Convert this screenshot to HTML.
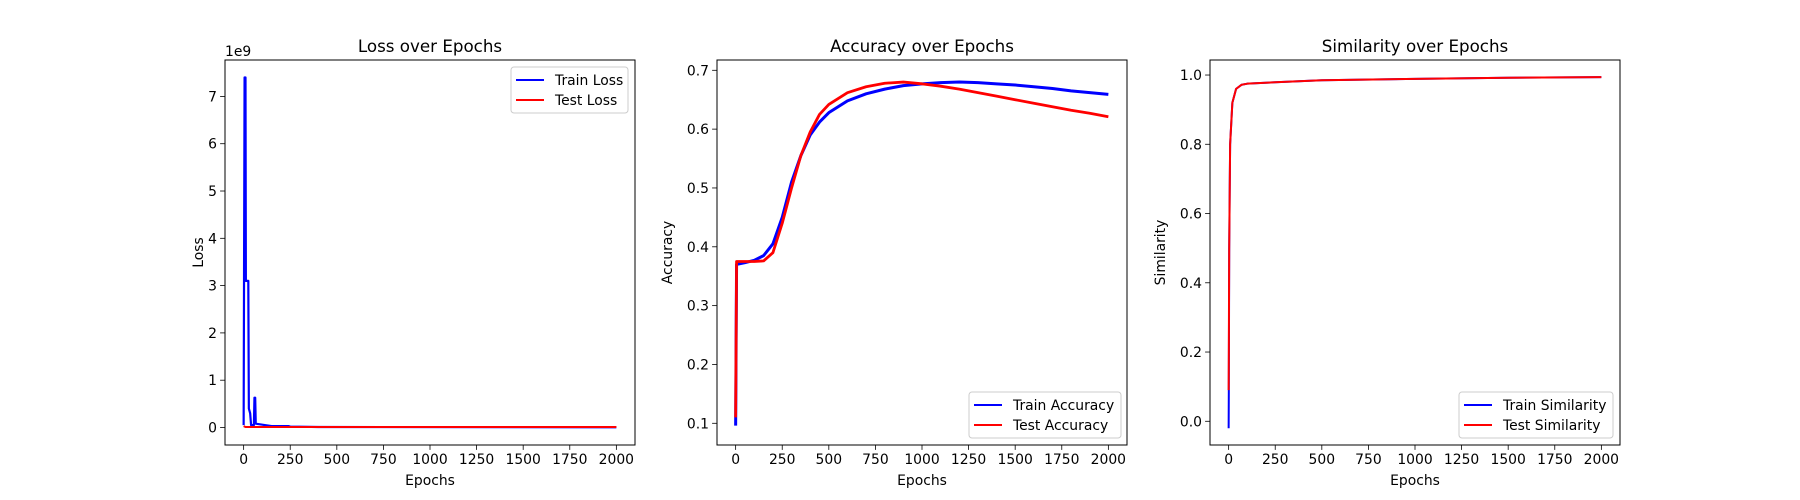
<!DOCTYPE html>
<html><head><meta charset="utf-8"><style>
body{margin:0;background:#fff;}
svg{display:block;font-family:"DejaVu Sans","Liberation Sans",sans-serif;}
</style></head><body>
<svg id="fig" width="1800" height="500" viewBox="0 0 1800 500"></svg>
<script>
const epochs = [0,5,50,100,150,200,250,300,350,400,450,500,600,700,800,900,1000,1100,1200,1300,1400,1500,1600,1700,1800,1900,2000];
const trainAcc = [0.096,0.37,0.373,0.377,0.385,0.405,0.45,0.51,0.555,0.59,0.612,0.628,0.648,0.66,0.668,0.674,0.677,0.679,0.680,0.679,0.677,0.675,0.672,0.669,0.665,0.662,0.659];
const testAcc = [0.11,0.375,0.375,0.375,0.376,0.39,0.44,0.50,0.555,0.595,0.625,0.642,0.662,0.672,0.678,0.68,0.677,0.673,0.668,0.662,0.656,0.650,0.644,0.638,0.632,0.627,0.621];
const lossEpochs = [0,5,10,12,25,28,35,40,55,58,62,65,100,150,240,250,400,2000];
const trainLoss = [0.05,7.4,7.4,3.1,3.1,0.4,0.3,0.05,0.05,0.63,0.63,0.08,0.06,0.03,0.03,0.02,0.01,0.005];
const testLossEpochs = [0,10,2000];
const testLoss = [0.03,0.01,0.01];
const simEpochs = [0,1,3,8,20,40,70,100,250,500,1000,1500,2000];
const trainSim = [-0.02,0.09,0.5,0.8,0.92,0.96,0.972,0.975,0.979,0.985,0.989,0.992,0.994];
const testSim = [0.09,0.2,0.5,0.8,0.92,0.96,0.972,0.975,0.979,0.985,0.989,0.992,0.994];
const xTicks = [0,250,500,750,1000,1250,1500,1750,2000];
const lossTicks = [0,1,2,3,4,5,6,7];
const accTicks = [0.1,0.2,0.3,0.4,0.5,0.6,0.7];
const simTicks = [0.0,0.2,0.4,0.6,0.8,1.0];

const NS="http://www.w3.org/2000/svg";
const fig=document.getElementById('fig');
function mk(tag,attrs,parent){const e=document.createElementNS(NS,tag);for(const k in attrs)e.setAttribute(k,attrs[k]);(parent||fig).appendChild(e);return e;}

function panel(cfg){
  const L=cfg.left,T=60,W=410,H=385,B=T+H;
  const g=mk('g',{});
  
  
  const sx=v=>L+(v+100)/2200*W;
  const sy=v=>B-(v-cfg.ymin)/(cfg.ymax-cfg.ymin)*H;
  cfg.series.forEach(s=>{
    const d=s.x.map((xv,i)=>(i?'L':'M')+sx(xv).toFixed(2)+' '+sy(s.y[i]).toFixed(2)).join(' ');
    const p=mk('path',{d:d,fill:'none',stroke:s.color,'stroke-width':s.w||1.5,'stroke-linejoin':'round'},g);
    
    
  });
  const fr=mk('rect',{x:L,y:T,width:W,height:H,fill:'none',stroke:'#000','stroke-width':1},g);
  
  
  xTicks.forEach(t=>{
    const x=sx(t);
    mk('line',{x1:x,x2:x,y1:B,y2:B+4.9,stroke:'#000','stroke-width':0.8},g);
    const tx=mk('text',{x:x,y:B+19,'font-size':13.9,'text-anchor':'middle',fill:'#000'},g);
    tx.textContent=t;
    
    
  });
  cfg.yticks.forEach(t=>{
    const y=sy(t);
    mk('line',{x1:L-4.9,x2:L,y1:y,y2:y,stroke:'#000','stroke-width':0.8},g);
    const tx=mk('text',{x:L-8,y:y+5,'font-size':13.9,'text-anchor':'end',fill:'#000'},g);
    tx.textContent=cfg.fmt(t);
    
    
  });
  const xl=mk('text',{x:L+W/2,y:485,'font-size':13.9,'text-anchor':'middle'},g);
  xl.textContent='Epochs';
  
  
  const yl=mk('text',{x:0,y:0,'font-size':13.9,'text-anchor':'middle',transform:`translate(${L-cfg.ylabOff},${T+H/2}) rotate(-90)`},g);
  yl.textContent=cfg.ylabel;
  
  
  const ti=mk('text',{x:L+W/2,y:52,'font-size':16.7,'text-anchor':'middle'},g);
  ti.textContent=cfg.title;
  
  
  if(cfg.offset){
    const o=mk('text',{x:L,y:56,'font-size':13.9},g);
    o.textContent=cfg.offset;
    
    
  }
  const lg=cfg.legend;
  const lgG=mk('g',{},g);
  
  
  mk('rect',{x:lg.x,y:lg.y,width:lg.w,height:46,rx:3,fill:'#fff','fill-opacity':0.8,stroke:'#ccc','stroke-width':1},lgG);
  cfg.series.forEach((s,i)=>{
    const yy=lg.y+13+i*20;
    mk('line',{x1:lg.x+5,x2:lg.x+33,y1:yy,y2:yy,stroke:s.color,'stroke-width':2},lgG);
    const t=mk('text',{x:lg.x+44,y:yy+5,'font-size':13.9},lgG);
    t.textContent=s.label;
    
    
  });
}

panel({name:'loss-chart',left:225,ymin:-0.37,ymax:7.77,yticks:lossTicks,fmt:t=>String(t),ylabel:'Loss',ylabOff:22,title:'Loss over Epochs',offset:'1e9',
  legend:{x:511,y:67,w:117},
  series:[{name:'train-loss-line',label:'Train Loss',color:'#0000ff',x:lossEpochs,y:trainLoss,w:2.2},
          {name:'test-loss-line',label:'Test Loss',color:'#ff0000',x:testLossEpochs,y:testLoss,w:2}]});
panel({name:'accuracy-chart',left:717,ymin:0.0631,ymax:0.7175,yticks:accTicks,fmt:t=>t.toFixed(1),ylabel:'Accuracy',ylabOff:45,title:'Accuracy over Epochs',
  legend:{x:969,y:392,w:152},
  series:[{name:'train-accuracy-line',label:'Train Accuracy',color:'#0000ff',x:epochs,y:trainAcc,w:3},
          {name:'test-accuracy-line',label:'Test Accuracy',color:'#ff0000',x:epochs,y:testAcc,w:2.8}]});
panel({name:'similarity-chart',left:1210,ymin:-0.0685,ymax:1.0434,yticks:simTicks,fmt:t=>t.toFixed(1),ylabel:'Similarity',ylabOff:45,title:'Similarity over Epochs',
  legend:{x:1459,y:392,w:154},
  series:[{name:'train-similarity-line',label:'Train Similarity',color:'#0000ff',x:simEpochs,y:trainSim,w:2},
          {name:'test-similarity-line',label:'Test Similarity',color:'#ff0000',x:simEpochs,y:testSim,w:2}]});
</script>
</body></html>
